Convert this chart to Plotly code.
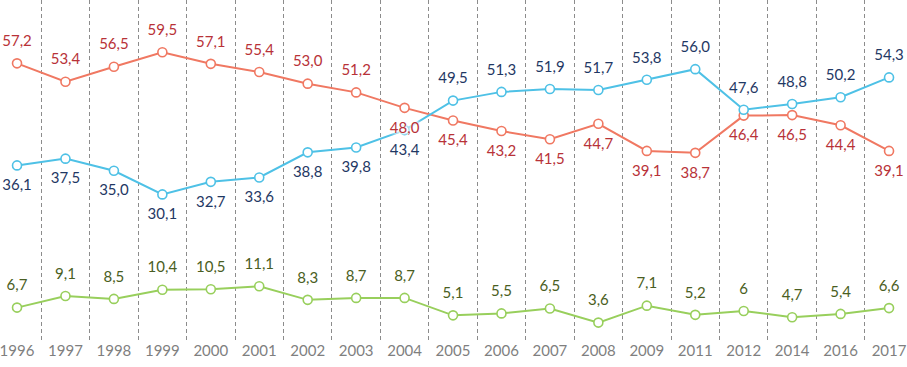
import plotly.graph_objects as go

years = ["1996","1997","1998","1999","2000","2001","2002","2003","2004","2005",
         "2006","2007","2008","2009","2011","2012","2014","2016","2017"]
red = [57.2,53.4,56.5,59.5,57.1,55.4,53.0,51.2,48.0,45.4,43.2,41.5,44.7,39.1,38.7,46.4,46.5,44.4,39.1]
blue = [36.1,37.5,35.0,30.1,32.7,33.6,38.8,39.8,43.4,49.5,51.3,51.9,51.7,53.8,56.0,47.6,48.8,50.2,54.3]
green = [6.7,9.1,8.5,10.4,10.5,11.1,8.3,8.7,8.7,5.1,5.5,6.5,3.6,7.1,5.2,6,4.7,5.4,6.6]
red_labels = ["57,2","53,4","56,5","59,5","57,1","55,4","53,0","51,2","48,0","45,4","43,2","41,5","44,7","39,1","38,7","46,4","46,5","44,4","39,1"]
blue_labels = ["36,1","37,5","35,0","30,1","32,7","33,6","38,8","39,8","43,4","49,5","51,3","51,9","51,7","53,8","56,0","47,6","48,8","50,2","54,3"]
green_labels = ["6,7","9,1","8,5","10,4","10,5","11,1","8,3","8,7","8,7","5,1","5,5","6,5","3,6","7,1","5,2","6","4,7","5,4","6,6"]
# label side: "top" above the point, "bottom" below it
red_side = ["top"]*8 + ["bottom"]*11
blue_side = ["bottom"]*9 + ["top"]*10
green_side = ["top"]*19

FONT = "Lato"
series = [
    (red, red_labels, red_side, "#f07862", "#b83238"),
    (blue, blue_labels, blue_side, "#4ec1e6", "#1f3864"),
    (green, green_labels, green_side, "#98cf5c", "#4a5e22"),
]

fig = go.Figure()
for vals, labs, side, lc, tc in series:
    fig.add_trace(go.Scatter(
        x=years, y=vals, mode="lines+markers",
        line=dict(color=lc, width=2),
        marker=dict(size=9, color="white", line=dict(color=lc, width=1.6)),
        showlegend=False, cliponaxis=False, hoverinfo="skip",
    ))
WHITE_HALO = "0 0 2px #fff, 0 0 3px #fff, 0 0 4px #fff, 0 0 5px #fff, 0 0 6px #fff"
for vals, labs, side, lc, tc in series:
    fig.add_trace(go.Scatter(
        x=years, y=vals, mode="markers+text", text=labs,
        textposition=[s + " center" for s in side],
        textfont=dict(family=FONT, size=15, color=tc, shadow=WHITE_HALO),
        marker=dict(size=20, opacity=0),
        showlegend=False, cliponaxis=False,
    ))

fig.update_layout(
    width=907, height=367,
    margin=dict(l=0, r=0, t=0, b=27),
    plot_bgcolor="white", paper_bgcolor="white",
    xaxis=dict(type="category", autorange=False, range=[-0.31, 18.35], tickson="boundaries",
               showgrid=True, gridcolor="#8c8c8c", griddash="4px,3px", gridwidth=1,
               ticks="", showline=False, zeroline=False,
               tickfont=dict(family=FONT, size=15, color="#7f7f7f")),
    yaxis=dict(autorange=False, range=[0, 70.3], visible=False, showgrid=False, zeroline=False),
)

fig.write_html("out.html", config={"displayModeBar": False},
               post_script="document.body.style.margin='0';document.body.style.overflow='hidden';")
